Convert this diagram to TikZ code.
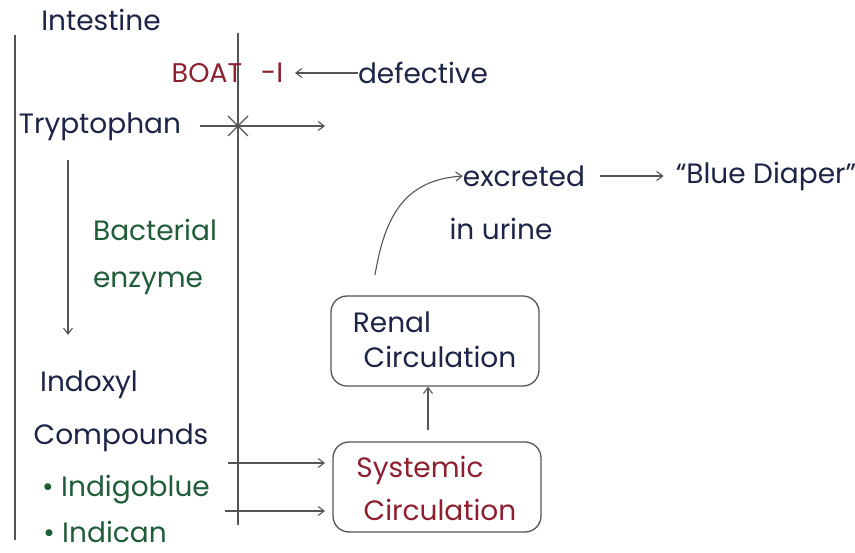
\documentclass[tikz,border=0pt]{standalone}
\usepackage{fontspec}
\setmainfont{Poppins}
\usetikzlibrary{arrows.meta}
\definecolor{ink}{HTML}{1C2448}
\definecolor{inkred}{HTML}{8E1F2E}
\definecolor{inkgreen}{HTML}{1F5C38}
\definecolor{pen}{HTML}{555555}
\tikzset{
  lbl/.style={inner sep=0pt, text=ink, font=\fontsize{28}{32}\selectfont},
  redlbl/.style={lbl, text=inkred},
  greenlbl/.style={lbl, text=inkgreen},
  wall/.style={draw=pen, line width=1.3pt},
  flow/.style={draw=pen, line width=1.1pt, -{Straight Barb[length=6pt,width=9pt]}},
  box/.style={draw=pen, line width=1.3pt, rounded corners=16pt, minimum width=208pt, minimum height=90pt, inner sep=0pt},
}
\begin{document}
\begin{tikzpicture}[x=1pt,y=-1pt]
\useasboundingbox (0,0) rectangle (855,553);
% intestinal walls
\coordinate (wl1) at (15,35);  \coordinate (wl2) at (15,540);
\coordinate (wr1) at (238,33); \coordinate (wr2) at (238,525);
\draw[wall] (wl1) -- (wl2);
\draw[wall] (wr1) -- (wr2);
% labels
\node[lbl] (intestine) at (101,20) {Intestine};
\node[redlbl, font=\fontsize{27}{30}\selectfont] (boat) at (207,73) {BOAT};
\node[redlbl] (boatnum) at (272,73) {-I};
\node[lbl] (defective) at (423,73) {defective};
\node[lbl] (trp) at (100,127) {Tryptophan};
\node[greenlbl] (bact) at (155,230) {Bacterial};
\node[greenlbl] (enz) at (148,283) {enzyme};
\node[lbl] (indoxyl) at (89,385) {Indoxyl};
\node[lbl] (compounds) at (121,438) {Compounds};
\node[greenlbl] (indigo) at (126,490) {\textbullet\ Indigoblue};
\node[greenlbl] (indican) at (105,532) {\textbullet\ Indican};
% circulation boxes
\node[box] (renal) at (435,341) {};
\node[lbl] (renalt1) at (392,322) {Renal};
\node[lbl] (renalt2) at (440,357) {Circulation};
\node[box] (systemic) at (437,487) {};
\node[redlbl] (syst1) at (420,470) {Systemic};
\node[redlbl] (syst2) at (440,510) {Circulation};
% excretion
\node[lbl] (excreted) at (524,176) {excreted};
\node[lbl] (blue) at (766,176) {``Blue Diaper''};
\node[lbl] (urine) at (501,229) {in urine};
% arrows
\draw[flow] (defective.west) -- (295,73) coordinate (dtip);
\coordinate (t1) at (200,126); \coordinate (t2) at (325,126);
\draw[flow] (t1) -- (t2);
\draw[draw=pen, line width=1.1pt] (228,116) -- (248,136) (228,136) -- (248,116);
\draw[flow] (68,160) -- (68,335);
\coordinate (a1) at (228,463); \coordinate (a2) at (325,463);
\coordinate (b1) at (225,511); \coordinate (b2) at (325,511);
\draw[flow] (a1) -- (a2);
\draw[flow] (b1) -- (b2);
\coordinate (s0) at (428,430);
\draw[flow] (s0) -- (renal.south -| s0);
\coordinate (c0) at (375,275);
\draw[flow] (c0) .. controls (385,215) and (405,180) .. (excreted.west);
\coordinate (e1) at (600,176);
\draw[flow, shorten >=12pt] (e1) -- (blue.west);
\end{tikzpicture}
\end{document}
